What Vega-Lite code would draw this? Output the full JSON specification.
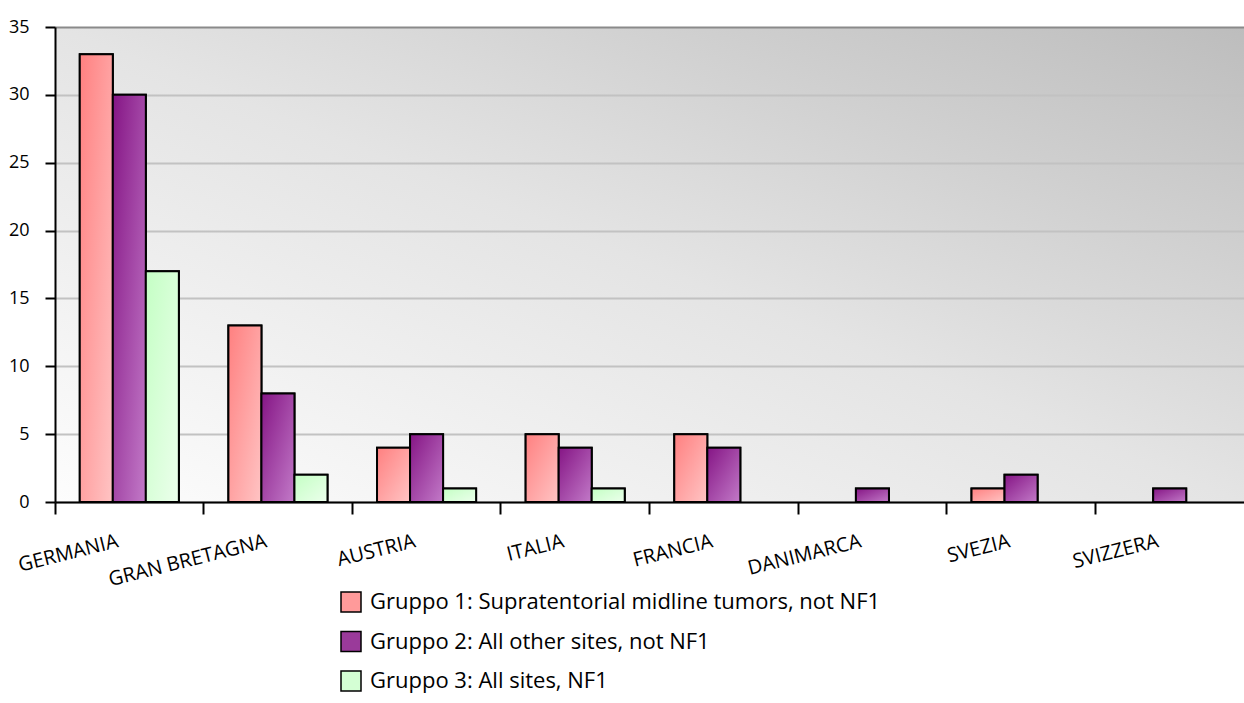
{
  "$schema": "https://vega.github.io/schema/vega-lite/v6.json",
  "autosize": "none",
  "width": 1189,
  "height": 475,
  "padding": {"left": 55, "top": 27, "right": 0, "bottom": 201},
  "background": "white",
  "config": {
    "font": "Open Sans",
    "view": {
      "stroke": null,
      "fill": {"gradient": "linear", "x1": 0, "y1": 1, "x2": 1, "y2": 0, "stops": [{"offset": 0, "color": "#fdfdfd"}, {"offset": 0.5, "color": "#e4e4e4"}, {"offset": 1, "color": "#bdbdbd"}]}
    }
  },
  "data": {
    "values": [
      {"country": "GERMANIA", "group": "Gruppo 1: Supratentorial midline tumors, not NF1", "value": 33},
      {"country": "GERMANIA", "group": "Gruppo 2: All other sites, not NF1", "value": 30},
      {"country": "GERMANIA", "group": "Gruppo 3: All sites, NF1", "value": 17},
      {"country": "GRAN BRETAGNA", "group": "Gruppo 1: Supratentorial midline tumors, not NF1", "value": 13},
      {"country": "GRAN BRETAGNA", "group": "Gruppo 2: All other sites, not NF1", "value": 8},
      {"country": "GRAN BRETAGNA", "group": "Gruppo 3: All sites, NF1", "value": 2},
      {"country": "AUSTRIA", "group": "Gruppo 1: Supratentorial midline tumors, not NF1", "value": 4},
      {"country": "AUSTRIA", "group": "Gruppo 2: All other sites, not NF1", "value": 5},
      {"country": "AUSTRIA", "group": "Gruppo 3: All sites, NF1", "value": 1},
      {"country": "ITALIA", "group": "Gruppo 1: Supratentorial midline tumors, not NF1", "value": 5},
      {"country": "ITALIA", "group": "Gruppo 2: All other sites, not NF1", "value": 4},
      {"country": "ITALIA", "group": "Gruppo 3: All sites, NF1", "value": 1},
      {"country": "FRANCIA", "group": "Gruppo 1: Supratentorial midline tumors, not NF1", "value": 5},
      {"country": "FRANCIA", "group": "Gruppo 2: All other sites, not NF1", "value": 4},
      {"country": "FRANCIA", "group": "Gruppo 3: All sites, NF1", "value": 0},
      {"country": "DANIMARCA", "group": "Gruppo 1: Supratentorial midline tumors, not NF1", "value": 0},
      {"country": "DANIMARCA", "group": "Gruppo 2: All other sites, not NF1", "value": 1},
      {"country": "DANIMARCA", "group": "Gruppo 3: All sites, NF1", "value": 0},
      {"country": "SVEZIA", "group": "Gruppo 1: Supratentorial midline tumors, not NF1", "value": 1},
      {"country": "SVEZIA", "group": "Gruppo 2: All other sites, not NF1", "value": 2},
      {"country": "SVEZIA", "group": "Gruppo 3: All sites, NF1", "value": 0},
      {"country": "SVIZZERA", "group": "Gruppo 1: Supratentorial midline tumors, not NF1", "value": 0},
      {"country": "SVIZZERA", "group": "Gruppo 2: All other sites, not NF1", "value": 1},
      {"country": "SVIZZERA", "group": "Gruppo 3: All sites, NF1", "value": 0}
    ]
  },
  "encoding": {
    "x": {
      "field": "country", "type": "nominal", "sort": null,
      "scale": {"paddingInner": 0.3333, "paddingOuter": 0.1667},
      "axis": {
        "title": null, "labelAngle": -14, "labelAlign": "right", "labelBaseline": "top",
        "labelFontSize": 20, "labelColor": "black", "labelPadding": 17, "labelOffset": -14,
        "bandPosition": -0.25, "tickSize": 12, "tickWidth": 2, "tickColor": "black",
        "domainColor": "black", "domainWidth": 2, "grid": false, "zindex": 1
      }
    },
    "xOffset": {"field": "group", "type": "nominal", "sort": null},
    "y": {
      "field": "value", "type": "quantitative",
      "scale": {"domain": [0, 35], "nice": false},
      "axis": {
        "title": null, "values": [0, 5, 10, 15, 20, 25, 30, 35],
        "labelFontSize": 18, "labelColor": "black", "labelPadding": 16,
        "tickSize": 10, "tickWidth": 2, "tickColor": "black",
        "domainColor": "black", "domainWidth": 2,
        "gridColor": {"condition": {"test": "datum.value === 35", "value": "#8a8a8a"}, "value": "#c2c2c2"},
        "gridWidth": 2
      }
    }
  },
  "layer": [
    {
      "transform": [{"filter": "datum.value > 0"}],
      "mark": {"type": "bar", "stroke": "black", "strokeWidth": 2},
      "encoding": {
        "color": {
          "field": "group", "type": "nominal", "sort": null,
          "scale": {"range": ["#ff9a9a", "#9a3a9a", "#d4ffd4"]},
          "legend": {
            "title": null, "orient": "none", "legendX": 285, "legendY": 564,
            "symbolType": "square", "symbolSize": 400, "symbolStrokeColor": "black", "symbolStrokeWidth": 1.5,
            "labelFontSize": 22, "labelColor": "black", "labelOffset": 8, "rowPadding": 13.5,
            "labelLimit": 800
          }
        }
      }
    },
    {
      "transform": [{"filter": "datum.value > 0 && datum.group === 'Gruppo 1: Supratentorial midline tumors, not NF1'"}],
      "mark": {"type": "bar", "stroke": "black", "strokeWidth": 2,
        "fill": {"gradient": "linear", "x1": 0, "y1": 0, "x2": 1, "y2": 1, "stops": [{"offset": 0, "color": "#ff8080"}, {"offset": 1, "color": "#ffc4c4"}]}}
    },
    {
      "transform": [{"filter": "datum.value > 0 && datum.group === 'Gruppo 2: All other sites, not NF1'"}],
      "mark": {"type": "bar", "stroke": "black", "strokeWidth": 2,
        "fill": {"gradient": "linear", "x1": 0, "y1": 0, "x2": 1, "y2": 1, "stops": [{"offset": 0, "color": "#851585"}, {"offset": 1, "color": "#c27ac8"}]}}
    },
    {
      "transform": [{"filter": "datum.value > 0 && datum.group === 'Gruppo 3: All sites, NF1'"}],
      "mark": {"type": "bar", "stroke": "black", "strokeWidth": 2,
        "fill": {"gradient": "linear", "x1": 0, "y1": 0, "x2": 1, "y2": 1, "stops": [{"offset": 0, "color": "#c4ffc4"}, {"offset": 1, "color": "#ecffec"}]}}
    }
  ]
}
